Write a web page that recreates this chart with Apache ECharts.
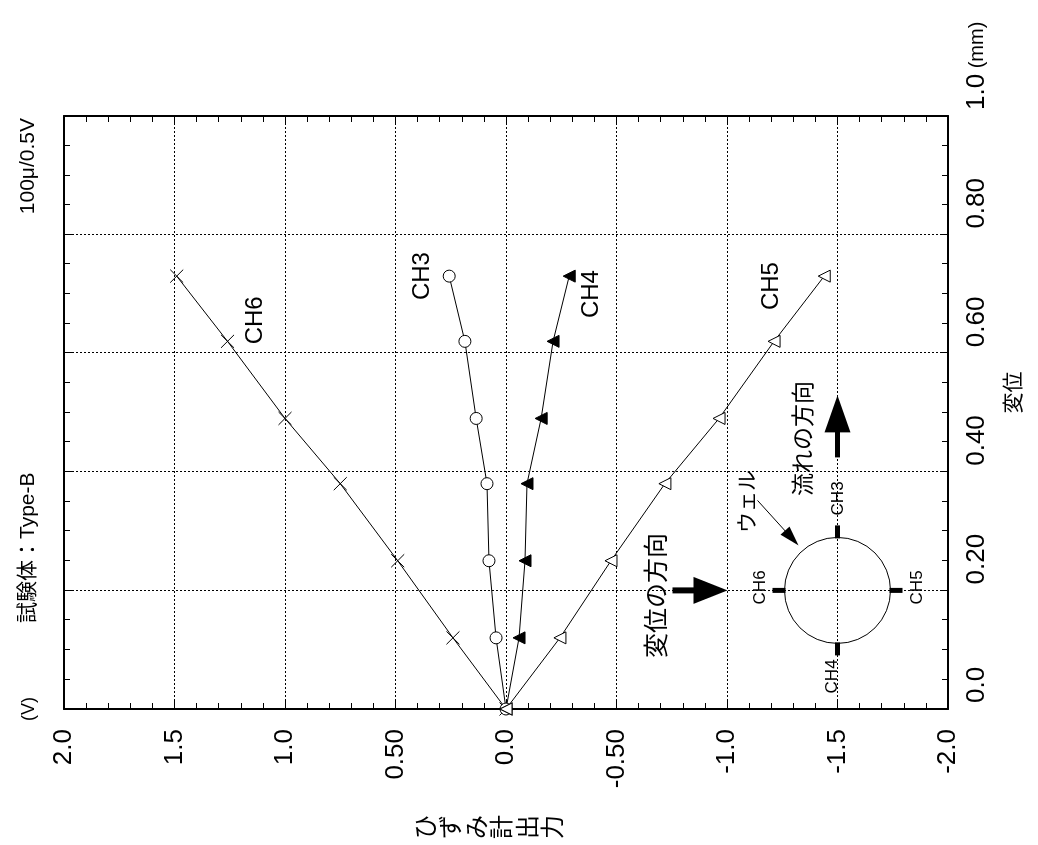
<!DOCTYPE html>
<html>
<head>
<meta charset="utf-8">
<script src="https://cdn.jsdelivr.net/npm/echarts@6/dist/echarts.min.js"></script>
<style>
  html, body { margin: 0; padding: 0; background: #fff; overflow: hidden; }
  #stage { position: absolute; left: 0; top: 0; width: 1038px; height: 845px; overflow: hidden; background: #fff; }
  /* The plot is laid out upright (845 x 1038) and turned a quarter turn counter-clockwise onto the page. */
  #chart { position: absolute; left: 0; top: 0; width: 845px; height: 1038px;
           transform-origin: 0 0; transform: translate(0, 845px) rotate(-90deg); }
</style>
</head>
<body>
<div id="stage"><div id="chart"></div></div>
<script>
// Displacement (mm) at each load step
const displacement = [0, 0.12, 0.25, 0.38, 0.49, 0.62, 0.73];
// Strain gauge output (V) per channel
const ch6 = [0, 0.24, 0.49, 0.75, 1.00, 1.26, 1.49];
const ch3 = [0, 0.045, 0.077, 0.086, 0.135, 0.186, 0.257];
const ch4 = [0, -0.059, -0.086, -0.095, -0.159, -0.213, -0.286];
const ch5 = [0, -0.244, -0.475, -0.719, -0.964, -1.213, -1.44];

// Tick labels
const dispTickLabels = ['0.0', '0.20', '0.40', '0.60', '0.80', '1.0'];
const voltTickLabels = ['-2.0', '-1.5', '-1.0', '-0.50', '0.0', '0.50', '1.0', '1.5', '2.0'];

const LATIN = '"Liberation Sans", Arial, sans-serif';
const CJK = '"Liberation Sans", "Noto Sans CJK JP", sans-serif';
const INK = '#000';

const chart = echarts.init(document.getElementById('chart'), null, { renderer: 'canvas' });

const frameLine = { show: true, onZero: false, lineStyle: { color: INK, width: 2 } };
const dotted = { show: true, lineStyle: { color: INK, width: 1, type: [2, 2] } };

function dispLabel(v) {
  const i = Math.round(v / 0.2);
  const t = dispTickLabels[i];
  return i === dispTickLabels.length - 1 ? '{n|' + t + '}{u| (mm)}' : '{n|' + t + '}';
}
function voltLabel(v) {
  return voltTickLabels[Math.round((v + 2) / 0.5)];
}

const crossSymbol = 'path://M0,0L10,10M10,0L0,10';

const seriesDefs = [
  { name: 'CH6', values: ch6, symbol: crossSymbol, size: 13, fill: INK, tagAt: 5, tagOffset: [21, 28] },
  { name: 'CH3', values: ch3, symbol: 'circle', size: 12, fill: '#fff', tagAt: 6, tagOffset: [0, -27] },
  { name: 'CH4', values: ch4, symbol: 'triangle', size: 12, fill: INK, tagAt: 6, tagOffset: [-18, 22] },
  { name: 'CH5', values: ch5, symbol: 'triangle', size: 12, fill: '#fff', tagAt: 6, tagOffset: [-10, -53] }
];

const series = seriesDefs.map(def => ({
  name: def.name,
  type: 'line',
  xAxisIndex: 0,
  yAxisIndex: 0,
  symbol: def.symbol,
  symbolSize: def.size,
  showAllSymbol: true,
  lineStyle: { color: INK, width: 1 },
  itemStyle: { color: def.fill, borderColor: INK, borderWidth: 1 },
  emphasis: { disabled: true },
  z: 5,
  data: displacement.map((d, i) => {
    const item = { value: [d, def.values[i]] };
    if (i === def.tagAt) {
      item.label = {
        show: true, position: 'inside', offset: def.tagOffset, formatter: def.name,
        fontFamily: LATIN, fontSize: 24, color: INK
      };
    }
    return item;
  })
}));

chart.setOption({
  animation: false,
  backgroundColor: '#fff',
  grid: { left: 136, right: 116, top: 64, bottom: 90, containLabel: false },
  xAxis: [
    {
      type: 'value', min: 0, max: 1.0, interval: 0.2, position: 'bottom',
      axisLine: frameLine,
      axisTick: { show: true, inside: true, length: 8, lineStyle: { color: INK, width: 1 } },
      minorTick: { show: true, splitNumber: 4, length: 6, lineStyle: { color: INK, width: 1 } },
      splitLine: dotted,
      axisLabel: {
        formatter: dispLabel, align: 'left', margin: 16, padding: [0, 0, 0, 6], color: INK,
        rich: { n: { fontFamily: LATIN, fontSize: 26, color: INK }, u: { fontFamily: LATIN, fontSize: 20, color: INK } }
      },
      name: '変位', nameLocation: 'middle', nameGap: 56,
      nameTextStyle: { fontFamily: CJK, fontSize: 21, color: INK, padding: [0, 0, 0, 40] }
    },
    {
      type: 'value', min: 0, max: 1.0, interval: 0.2, position: 'top',
      axisLine: frameLine,
      axisTick: { show: true, inside: true, length: 8, lineStyle: { color: INK, width: 1 } },
      minorTick: { show: true, splitNumber: 4, length: 6, lineStyle: { color: INK, width: 1 } },
      axisLabel: { show: false }, splitLine: { show: false }
    }
  ],
  yAxis: [
    {
      type: 'value', min: -2, max: 2, interval: 0.5, position: 'left',
      axisLine: frameLine,
      axisTick: { show: true, inside: true, length: 8, lineStyle: { color: INK, width: 1 } },
      minorTick: { show: true, splitNumber: 5, length: 6, lineStyle: { color: INK, width: 1 } },
      splitLine: dotted,
      axisLabel: { formatter: voltLabel, margin: 20, fontFamily: LATIN, fontSize: 26, color: INK },
      name: '(V)', nameLocation: 'end', nameGap: 26,
      nameTextStyle: { fontFamily: LATIN, fontSize: 18, color: INK, align: 'center' }
    },
    {
      type: 'value', min: -2, max: 2, interval: 0.5, position: 'right',
      axisLine: frameLine,
      axisTick: { show: true, inside: true, length: 8, lineStyle: { color: INK, width: 1 } },
      minorTick: { show: true, splitNumber: 5, length: 6, lineStyle: { color: INK, width: 1 } },
      axisLabel: { show: false }, splitLine: { show: false }
    }
  ],
  series: series
});

// ---- Titles, vertical axis caption and the well sketch ----
const [cx, cy] = chart.convertToPixel({ gridIndex: 0 }, [0.2, -1.5]);

function txt(text, x, y, size, extra) {
  return {
    type: 'text', z: 20,
    style: Object.assign({ text, x, y, fill: INK, font: size + 'px ' + CJK, align: 'center', verticalAlign: 'middle' }, extra || {})
  };
}
function rect(x, y, w, h) {
  return { type: 'rect', z: 20, shape: { x, y, width: w, height: h }, style: { fill: INK } };
}
function arrowHead(tip, dir, len, width) {
  const l = Math.hypot(dir[0], dir[1]);
  const ux = dir[0] / l, uy = dir[1] / l;
  const bx = tip[0] - ux * len, by = tip[1] - uy * len;
  const px = -uy * width / 2, py = ux * width / 2;
  return { type: 'polygon', z: 20, shape: { points: [[tip[0], tip[1]], [bx + px, by + py], [bx - px, by - py]] }, style: { fill: INK } };
}

const sketch = [
  // well outline
  { type: 'circle', z: 20, shape: { cx: 0, cy: 0, r: 53 }, style: { fill: 'none', stroke: INK, lineWidth: 1 } },
  // gauge positions
  rect(52, -2.5, 13, 5),
  rect(-65, -2.5, 13, 5),
  rect(-2.5, -65, 5, 13),
  rect(-2.5, 52, 5, 13),
  txt('CH3', 92, 1, 17, { font: '17px ' + LATIN }),
  txt('CH4', -86, -5, 17, { font: '17px ' + LATIN }),
  txt('CH6', 3, -77, 17, { font: '17px ' + LATIN }),
  txt('CH5', 3, 80, 17, { font: '17px ' + LATIN }),
  // well pointer
  txt('ウェル', 89, -89, 21),
  { type: 'line', z: 20, shape: { x1: 90, y1: -80, x2: 58, y2: -51 }, style: { stroke: INK, lineWidth: 1 } },
  arrowHead([45, -39], [-45, 41], 20, 12),
  // flow direction
  txt('流れの方向', 152, -33, 23),
  rect(133, -2.5, 27, 5),
  arrowHead([195, 0], [1, 0], 37, 26),
  // displacement direction
  txt('変位の方向', -5, -179, 25),
  rect(-3, -165, 6, 22),
  arrowHead([0, -110], [0, 1], 34, 27)
];

chart.setOption({
  graphic: [
    txt('試験体：Type-B', 222, 28, 21, { align: 'left' }),
    txt('100μ/0.5V', 727, 28, 21, { align: 'right', font: '21px ' + LATIN }),
    txt('ひ\nず\nみ\n計\n出\n力', 18, 491, 24, { lineHeight: 25.5 }),
    { type: 'group', x: cx, y: cy, children: sketch }
  ]
});
</script>
</body>
</html>
